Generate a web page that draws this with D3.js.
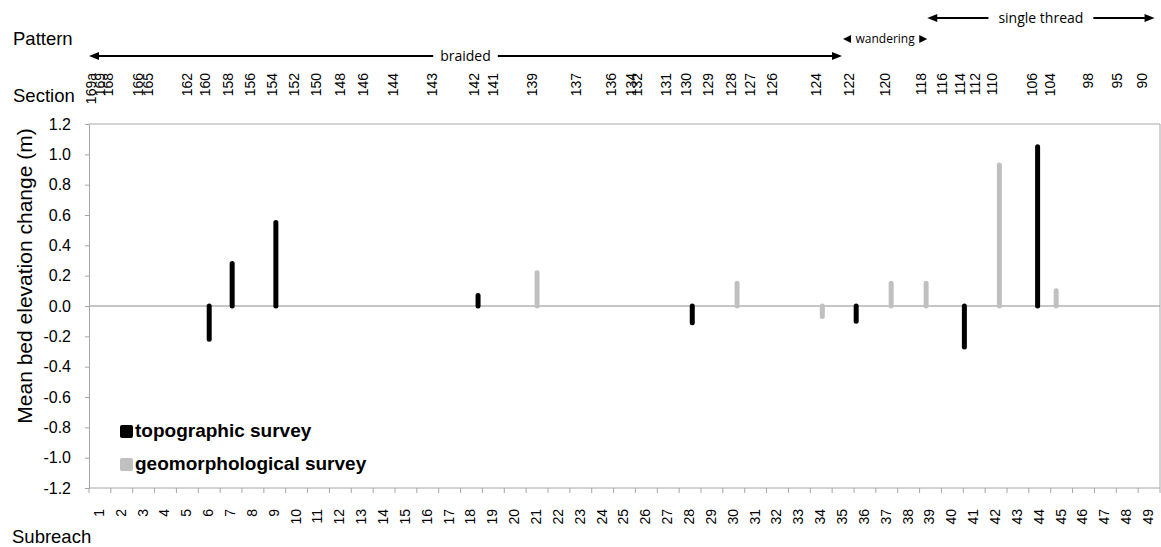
<!DOCTYPE html>
<html><head><meta charset="utf-8">
<script src="https://cdn.jsdelivr.net/npm/d3@7"></script>
<style>
body{margin:0;background:#fff}
svg{display:block}
text{font-family:"Liberation Sans",Arial,sans-serif;fill:#000}
</style>
</head><body>
<svg id="c" width="1161" height="547"></svg>
<script>
// ---- data ----
const subreaches = ["1","2","3","4","5","6","7","8","9","10","11","12","13","14","15","16","17","18","19","20",
  "21","22","23","24","25","26","27","28","29","30","31","32","33","34","35","36","37","38","39","40",
  "41","42","43","44","45","46","47","48","49"];
const sectionLabels = ["169a","169","168","166","165","162","160","158","156","154","152","150","148","146","144",
  "143","142","141","139","137","136","134","132","131","130","129","128","127","126","124","122","120","118",
  "116","114","112","110","106","104","98","95","90"];
// positions of sections along the subreach axis (subreach units)
const sectionPos = [0.09,0.50,0.87,2.24,2.70,4.48,5.31,6.36,7.37,8.37,9.38,10.38,11.48,12.53,13.91,
  15.69,17.61,18.48,20.27,22.28,23.88,24.79,25.07,26.40,27.31,28.32,29.37,30.24,31.24,33.26,34.77,36.41,38.06,
  39.02,39.84,40.53,41.31,43.14,43.96,45.70,47.03,48.17];
const topoPos = [5.5, 6.55, 8.55, 17.8, 27.6, 35.1, 40.05, 43.4];
const topoVal = [-0.22, 0.28, 0.55, 0.07, -0.11, -0.10, -0.27, 1.05];
const geoPos = [20.5, 29.65, 33.55, 36.7, 38.3, 41.65, 44.25];
const geoVal = [0.22, 0.15, -0.07, 0.15, 0.15, 0.93, 0.10];
const yTicks = [-1.2,-1.0,-0.8,-0.6,-0.4,-0.2,0,0.2,0.4,0.6,0.8,1.0,1.2];
const yTickLabels = ["-1.2","-1.0","-0.8","-0.6","-0.4","-0.2","0.0","0.2","0.4","0.6","0.8","1.0","1.2"];
const patternNames = ["braided","wandering","single thread"];
const patternFrom = [0, 34.5, 38.35];
const patternTo = [34.45, 38.35, 48.75];
const seriesNames = ["topographic survey","geomorphological survey"];

// ---- layout ----
const L = 89, R = 1160, T = 124, B = 488;
const svg = d3.select("#c");
const x = d3.scaleLinear().domain([0, 49]).range([L, R]);
const band = d3.scaleBand().domain(subreaches).range([L, R]);
const y = d3.scaleLinear().domain([-1.2, 1.2]).range([B, T]);
const axisGrey = "#a6a6a6";

// plot frame (top/right)
svg.append("line").attr("x1", L).attr("x2", R).attr("y1", T).attr("y2", T).attr("stroke", axisGrey);
svg.append("line").attr("x1", R).attr("x2", R).attr("y1", T).attr("y2", B).attr("stroke", axisGrey);
// zero line
svg.append("line").attr("x1", L).attr("x2", R).attr("y1", y(0)).attr("y2", y(0)).attr("stroke", "#8c8c8c");

// y axis
const ya = svg.append("g").attr("transform", `translate(${L},0)`)
  .call(d3.axisLeft(y).tickValues(yTicks).tickFormat((d, i) => yTickLabels[i]).tickSize(4).tickSizeOuter(0).tickPadding(14));
ya.selectAll("path,line").attr("stroke", axisGrey);
ya.selectAll("text").style("font-size", "16px").style("font-family", '"Liberation Sans",Arial,sans-serif');

// x axis (subreach) – ticks at category boundaries
svg.append("line").attr("x1", L).attr("x2", R).attr("y1", B).attr("y2", B).attr("stroke", axisGrey);
svg.append("g").selectAll("line").data(d3.range(subreaches.length + 1)).join("line")
  .attr("x1", d => x(d)).attr("x2", d => x(d)).attr("y1", B).attr("y2", B + 5).attr("stroke", axisGrey);
svg.append("g").selectAll("text").data(subreaches).join("text")
  .attr("transform", d => `translate(${band(d) + band.bandwidth() / 2 - 1},509) rotate(-90)`)
  .attr("text-anchor", "end").attr("dy", "0.35em").style("font-size", "14px").text(d => d);

// section labels (top)
svg.append("g").selectAll("text").data(sectionLabels).join("text")
  .attr("transform", (d, i) => `translate(${x(sectionPos[i])},73) rotate(-90)`)
  .attr("text-anchor", "end").attr("dy", "0.35em").style("font-size", "14px").text(d => d);

// bars
svg.append("g").selectAll("line").data(geoVal).join("line")
  .attr("x1", (d, i) => x(geoPos[i])).attr("x2", (d, i) => x(geoPos[i]))
  .attr("y1", y(0)).attr("y2", d => y(d))
  .attr("stroke", "#c0c0c0").attr("stroke-width", 5).attr("stroke-linecap", "round");
svg.append("g").selectAll("line").data(topoVal).join("line")
  .attr("x1", (d, i) => x(topoPos[i])).attr("x2", (d, i) => x(topoPos[i]))
  .attr("y1", y(0)).attr("y2", d => y(d))
  .attr("stroke", "#000").attr("stroke-width", 5).attr("stroke-linecap", "round");

// legend
const legColors = ["#000", "#c0c0c0"];
const lg = svg.append("g");
seriesNames.forEach((n, i) => {
  lg.append("rect").attr("x", 120).attr("y", 425 + i * 33).attr("width", 13).attr("height", 13)
    .attr("rx", 2).attr("fill", legColors[i]);
  lg.append("text").attr("x", 135).attr("y", 437 + i * 33).style("font-size", "19px")
    .style("font-weight", "bold").text(n);
});

// titles
svg.append("text").attr("x", 13).attr("y", 45).style("font-size", "18.5px").text("Pattern");
svg.append("text").attr("x", 13).attr("y", 102).style("font-size", "18.5px").text("Section");
svg.append("text").attr("x", 12).attr("y", 543).style("font-size", "18.5px").text("Subreach");
svg.append("text").attr("transform", `translate(32,${(T + B) / 2 - 30}) rotate(-90)`)
  .attr("text-anchor", "middle").style("font-size", "21px").text("Mean bed elevation change (m)");

// pattern arrows
const patY = [56, 39, 18];
const patFont = [14, 12, 14];
const patGap = [7, 3, 10];
const head = (g, tipX, yy, dir, len, hh) => {
  g.append("path").attr("d", `M${tipX},${yy} L${tipX + dir * len},${yy - hh} L${tipX + dir * len},${yy + hh} Z`).attr("fill", "#000");
};
patternNames.forEach((n, i) => {
  const g = svg.append("g");
  const x0 = x(patternFrom[i]), x1 = x(patternTo[i]);
  const cx = (x0 + x1) / 2, yy = patY[i];
  const t = g.append("text").attr("x", cx).attr("y", yy).attr("dy", "0.35em").attr("text-anchor", "middle")
    .style("font-family", '"Open Sans","Noto Sans",sans-serif').style("font-size", patFont[i] + "px").text(n);
  const tw = t.node().getComputedTextLength();
  const len = i === 1 ? 8 : 10, hh = 4;
  head(g, x0, yy, 1, len, hh);
  head(g, x1, yy, -1, len, hh);
  if (i !== 1) {
    g.append("line").attr("x1", x0 + len - 1).attr("x2", cx - tw / 2 - patGap[i]).attr("y1", yy).attr("y2", yy)
      .attr("stroke", "#000").attr("stroke-width", 2);
    g.append("line").attr("x1", cx + tw / 2 + patGap[i]).attr("x2", x1 - len + 1).attr("y1", yy).attr("y2", yy)
      .attr("stroke", "#000").attr("stroke-width", 2);
  }
});
</script>
</body></html>
